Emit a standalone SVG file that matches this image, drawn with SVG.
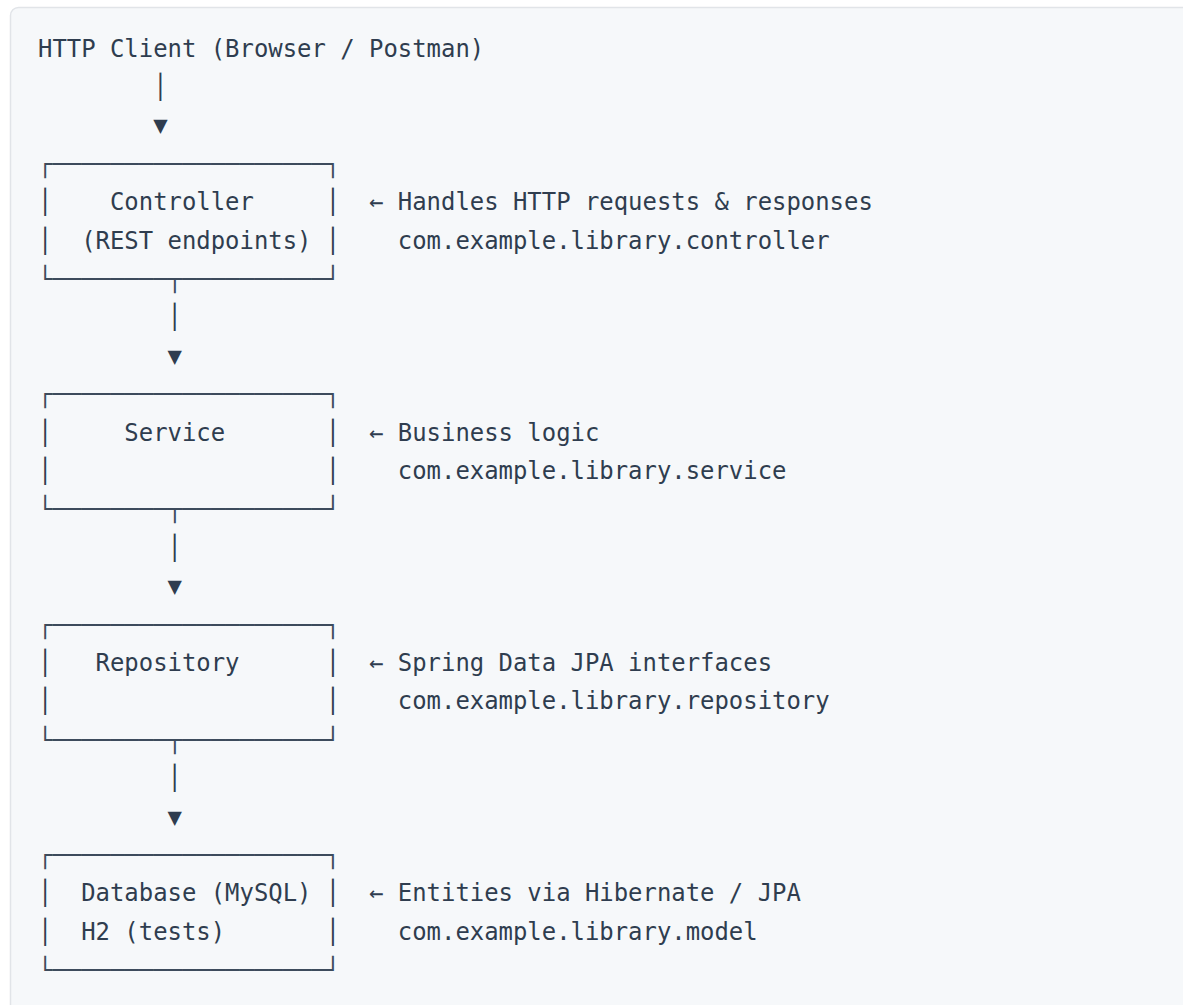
<svg xmlns="http://www.w3.org/2000/svg" width="1183" height="1005" viewBox="0 0 1183 1005">
<style>
text{font-family:"DejaVu Sans Mono","Liberation Mono",monospace;font-size:23.92px;fill:#2f3d4f;white-space:pre}
.box{fill:#3d4b5c}
</style>
<rect x="0" y="0" width="1183" height="1005" fill="#ffffff"/>
<rect x="10.5" y="7.5" width="1200" height="1100" rx="8" fill="#f6f8fa" stroke="#e1e4e8" stroke-width="1.5"/>
<g id="client">
<text x="38" y="56.5">HTTP Client (Browser / Postman)</text>
</g>
<g id="connectors">
<text x="38" y="94.9">        │</text>
<text x="38" y="133.3">        ▼</text>
<text x="38" y="325.3">         │</text>
<text x="38" y="363.7">         ▼</text>
<text x="38" y="555.7">         │</text>
<text x="38" y="594.1">         ▼</text>
<text x="38" y="786.1">         │</text>
<text x="38" y="824.5">         ▼</text>
</g>
<g id="controller">
<text class="box" x="38" y="171.7">┌───────────────────┐</text>
<text x="38" y="210.1">│    Controller     │  ← Handles HTTP requests &amp; responses</text>
<text x="38" y="248.5">│  (REST endpoints) │    com.example.library.controller</text>
<text class="box" x="38" y="286.9">└────────┬──────────┘</text>
</g>
<g id="service">
<text class="box" x="38" y="402.1">┌───────────────────┐</text>
<text x="38" y="440.5">│     Service       │  ← Business logic</text>
<text x="38" y="478.9">│                   │    com.example.library.service</text>
<text class="box" x="38" y="517.3">└────────┬──────────┘</text>
</g>
<g id="repository">
<text class="box" x="38" y="632.5">┌───────────────────┐</text>
<text x="38" y="670.9">│   Repository      │  ← Spring Data JPA interfaces</text>
<text x="38" y="709.3">│                   │    com.example.library.repository</text>
<text class="box" x="38" y="747.7">└────────┬──────────┘</text>
</g>
<g id="database">
<text class="box" x="38" y="862.9">┌───────────────────┐</text>
<text x="38" y="901.3">│  Database (MySQL) │  ← Entities via Hibernate / JPA</text>
<text x="38" y="939.7">│  H2 (tests)       │    com.example.library.model</text>
<text class="box" x="38" y="978.1">└───────────────────┘</text>
</g>
</svg>
